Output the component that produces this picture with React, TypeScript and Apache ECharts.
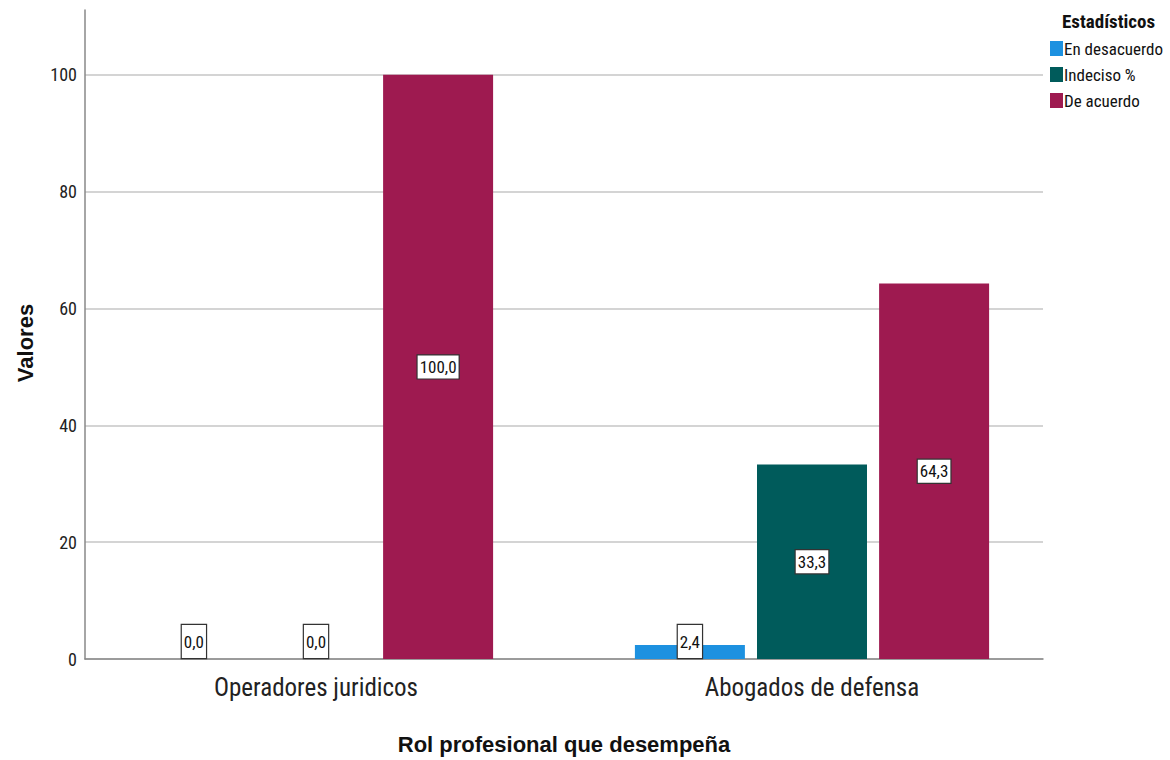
import React, { useEffect, useRef } from "react";
import * as echarts from "echarts";

const categories = ["Operadores juridicos", "Abogados de defensa"];
const seriesNames = ["En desacuerdo", "Indeciso %", "De acuerdo"];
const enDesacuerdo = [0.0, 2.4];
const indeciso = [0.0, 33.3];
const deAcuerdo = [100.0, 64.3];
const yTicks = [0, 20, 40, 60, 80, 100];
const colors = ["#1d91e0", "#005b5b", "#9e1a50"];

const NARROW = '"Liberation Sans Narrow", "Arial Narrow", "Roboto Condensed", "Liberation Sans", sans-serif';
const SANS = '"Liberation Sans", Arial, sans-serif';

const Y_MAX = 111.1;

function buildData(values: number[]) {
  return values.map((v) => {
    if (v < 5) {
      return {
        value: v,
        label: { position: "insideBottom", distance: 1, padding: [8, 2, 8, 2] },
      };
    }
    return { value: v };
  });
}

export default function App() {
  const ref = useRef<HTMLDivElement>(null);
  useEffect(() => {
    if (!ref.current) return;
    const chart = echarts.init(ref.current, null, { renderer: "svg" });
    const seriesValues = [enDesacuerdo, indeciso, deAcuerdo];
    chart.setOption({
      animation: false,
      backgroundColor: "#ffffff",
      graphic: [
        {
          type: "text",
          left: 1062,
          top: 12,
          style: {
            text: "Estadísticos",
            font: `bold 19px ${NARROW}`,
            fill: "#111",
          },
        },
        {
          type: "text",
          x: 25,
          y: 343,
          rotation: Math.PI / 2,
          style: {
            text: "Valores",
            font: `bold 22px ${SANS}`,
            fill: "#111",
            align: "center",
            verticalAlign: "middle",
          },
        },
      ],
      legend: {
        orient: "vertical",
        left: 1045,
        top: 35,
        itemWidth: 13,
        itemHeight: 15,
        itemGap: 9,
        icon: "rect",
        data: seriesNames,
        textStyle: { fontSize: 17, fontFamily: NARROW, color: "#111", padding: [0, 0, 0, -4] },
      },
      grid: [
        { left: 85, right: 127, top: 10, bottom: 101 },
        { left: 68, right: 110, top: 10, bottom: 101 },
      ],
      xAxis: [
        {
          gridIndex: 0,
          type: "category",
          data: categories,
          axisLine: { show: true, lineStyle: { color: "#888", width: 1.5 } },
          axisTick: { show: false },
          axisLabel: { show: false },
          name: "Rol profesional que desempeña",
          nameLocation: "middle",
          nameGap: 74,
          nameTextStyle: { fontSize: 22, fontWeight: "bold", fontFamily: SANS, color: "#111" },
        },
        {
          gridIndex: 1,
          type: "category",
          data: categories,
          axisLine: { show: false },
          axisTick: { show: false },
          axisLabel: { fontSize: 25, fontFamily: NARROW, color: "#222", margin: 16 },
        },
      ],
      yAxis: [
        {
          gridIndex: 0,
          type: "value",
          min: 0,
          max: Y_MAX,
          interval: 20,
          axisLine: { show: true, lineStyle: { color: "#888", width: 1.5 } },
          axisTick: { show: false },
          axisLabel: {
            fontSize: 18,
            fontFamily: NARROW,
            color: "#222",
            margin: 8,
            showMaxLabel: false,
            formatter: (v: number) => (yTicks.includes(v) ? String(v) : ""),
          },
          splitLine: { show: true, showMaxLine: false, lineStyle: { color: "#d4d4d4", width: 2 } },
        },
        {
          gridIndex: 1,
          type: "value",
          min: 0,
          max: Y_MAX,
          show: false,
          splitLine: { show: false },
        },
      ],
      series: seriesNames.map((name, i) => ({
        name,
        type: "bar",
        xAxisIndex: 1,
        yAxisIndex: 1,
        barWidth: 110,
        barGap: "11%",
        itemStyle: { color: colors[i] },
        data: buildData(seriesValues[i]),
        label: {
          show: true,
          position: "inside",
          formatter: (p: any) => Number(p.value).toFixed(1).replace(".", ","),
          fontSize: 17,
          fontFamily: NARROW,
          color: "#111",
          backgroundColor: "#ffffff",
          borderColor: "#333",
          borderWidth: 1.2,
          padding: [3, 2, 3, 2],
        },
      })),
    });
    return () => chart.dispose();
  }, []);
  return (
    <div
      ref={ref}
      style={{ position: "fixed", left: 0, top: 0, width: 1170, height: 760 }}
    />
  );
}
